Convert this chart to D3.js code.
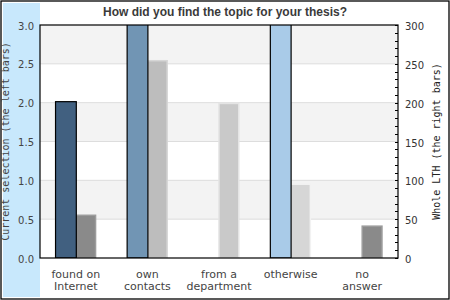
<html>
<body style="margin:0">
<script src="https://cdn.jsdelivr.net/npm/d3@7"></script>
<div id="main"></div>
<script>
// data
var categories = ["found on\nInternet", "own\ncontacts", "from a\ndepartment", "otherwise", "no\nanswer"];
var currentValues = [2, 3, 0, 3, 0];          // left bars (left axis)
var lthValues = [55, 254, 199, 95, 41];        // right bars (right axis)
var currentColors = ["#416080", "#7195b4", "#a9cbe8", "#a9cbe8", "#a9cbe8"];
var lthColors = ["#8a8a8a", "#bdbdbd", "#c9c9c9", "#d6d6d6", "#8a8a8a"];
var leftTicks = [0, 0.5, 1, 1.5, 2, 2.5, 3];
var rightTicks = [0, 50, 100, 150, 200, 250, 300];

var W = 450, H = 300;
var margin = { top: 25, right: 52, bottom: 42, left: 40 },
    width = W - margin.left - margin.right,
    height = H - margin.top - margin.bottom;

var svg = d3.select("#main").append("svg")
    .attr("width", W).attr("height", H)
    .style("display", "block");

svg.append("rect").attr("x", 0).attr("y", 0).attr("width", W).attr("height", H).style("fill", "white");
// left blue strip
svg.append("rect").attr("x", 3).attr("y", 3).attr("width", margin.left - 3).attr("height", H - 6)
    .style("fill", "#c8e8fc");
// outer border
svg.append("rect").attr("x", 1).attr("y", 1).attr("width", W - 2).attr("height", H - 2)
    .style("fill", "none").style("stroke", "black").style("stroke-width", 1.3);

// title
svg.append("text")
    .attr("x", W / 2).attr("y", 16)
    .attr("text-anchor", "middle")
    .style("font-family", "Liberation Sans, Arial, sans-serif")
    .style("font-weight", "bold").style("font-size", "12px")
    .style("fill", "#3a3a3a")
    .text("How did you find the topic for your thesis?");

var g = svg.append("g").attr("transform", "translate(" + margin.left + "," + margin.top + ")");

var yL = d3.scaleLinear().domain([0, 3]).range([height, 0]);
var yR = d3.scaleLinear().domain([0, 300]).range([height, 0]);
var x0 = d3.scaleBand().domain(categories).range([0, width]);
var x1 = d3.scaleBand().domain(["cur", "lth"])
    .range([x0.bandwidth() * 0.21, x0.bandwidth() * 0.79]);

// alternating bands
g.selectAll(".band")
    .data([0.5, 1.5, 2.5])
    .enter().append("rect")
    .attr("x", 0).attr("width", width)
    .attr("y", function (d) { return yL(d + 0.5); })
    .attr("height", function (d) { return yL(d) - yL(d + 0.5); })
    .style("fill", "#f3f3f3");

// grid lines
g.selectAll(".grid")
    .data(leftTicks.slice(1, -1))
    .enter().append("line")
    .attr("x1", 0).attr("x2", width)
    .attr("y1", function (d) { return yL(d); })
    .attr("y2", function (d) { return yL(d); })
    .style("stroke", "#dddddd");

g.append("defs").append("clipPath").attr("id", "clip")
    .append("rect").attr("width", width).attr("height", height);

var bars = g.append("g").attr("clip-path", "url(#clip)");

// right (gray) bars
bars.selectAll(".lth")
    .data(categories)
    .enter().append("rect")
    .attr("x", function (d) { return x0(d) + x1("lth"); })
    .attr("width", x1.bandwidth() - 1)
    .attr("y", function (d, i) { return yR(lthValues[i]); })
    .attr("height", function (d, i) { return height - yR(lthValues[i]); })
    .style("fill", function (d, i) { return lthColors[i]; })
    .style("stroke", function (d, i) { return d3.color(lthColors[i]).brighter(0.35); })
    .style("stroke-width", 1.5);

// left (coloured) bars
bars.selectAll(".cur")
    .data(categories.filter(function (d, i) { return currentValues[i] > 0; }))
    .enter().append("rect")
    .attr("x", function (d) { return x0(d) + x1("cur") + 0.5; })
    .attr("width", x1.bandwidth())
    .attr("y", function (d) { return yL(currentValues[categories.indexOf(d)]) - 1; })
    .attr("height", function (d) { return height - yL(currentValues[categories.indexOf(d)]) + 1; })
    .style("fill", function (d) { return currentColors[categories.indexOf(d)]; })
    .style("stroke", "black")
    .style("stroke-width", 1.2);

// plot frame
g.append("rect").attr("width", width).attr("height", height)
    .style("fill", "none").style("stroke", "black").style("stroke-width", 1.2);

var tickFont = "DejaVu Sans, sans-serif";

// left axis labels
g.selectAll(".ltick")
    .data(leftTicks)
    .enter().append("text")
    .attr("x", -6)
    .attr("y", function (d) { return yL(d) + 4.5; })
    .attr("text-anchor", "end")
    .style("font-family", tickFont).style("font-size", "10px").style("fill", "#444")
    .text(function (d) { return d3.format(".1f")(d); });

// right axis with minor ticks
var minor = d3.range(0, 301, 10);
g.selectAll(".rminor")
    .data(minor)
    .enter().append("line")
    .attr("x1", width - 3).attr("x2", width)
    .attr("y1", function (d) { return Math.round(yR(d)) + 0.5; })
    .attr("y2", function (d) { return Math.round(yR(d)) + 0.5; })
    .style("stroke", "black");

g.selectAll(".rtick")
    .data(rightTicks)
    .enter().append("text")
    .attr("x", width + 7)
    .attr("y", function (d) { return yR(d) + 5; })
    .style("font-family", tickFont).style("font-size", "10px").style("fill", "#333")
    .text(function (d) { return d; });

// axis titles
g.append("text")
    .attr("transform", "translate(" + (-31) + "," + (height / 2) + ") rotate(-90)")
    .attr("text-anchor", "middle")
    .style("font-family", "DejaVu Sans Mono, monospace").style("font-size", "10px").style("fill", "#444")
    .text("Current selection (the left bars)");

g.append("text")
    .attr("transform", "translate(" + (width + 42) + "," + (height / 2) + ") rotate(-90)")
    .attr("text-anchor", "middle")
    .style("font-family", "DejaVu Sans Mono, monospace").style("font-size", "10px").style("fill", "#222")
    .text("Whole LTH (the right bars)");

// category labels
var cat = g.selectAll(".cat")
    .data(categories)
    .enter().append("text")
    .attr("text-anchor", "middle")
    .style("font-family", tickFont).style("font-size", "11px").style("fill", "#444");
cat.selectAll("tspan")
    .data(function (d) { return d.split("\n").map(function (s) { return { s: s, c: d }; }); })
    .enter().append("tspan")
    .attr("x", function (d) { return x0(d.c) + x0.bandwidth() / 2; })
    .attr("y", function (d, i) { return height + 20 + i * 12; })
    .text(function (d) { return d.s; });
</script>
</body>
</html>
